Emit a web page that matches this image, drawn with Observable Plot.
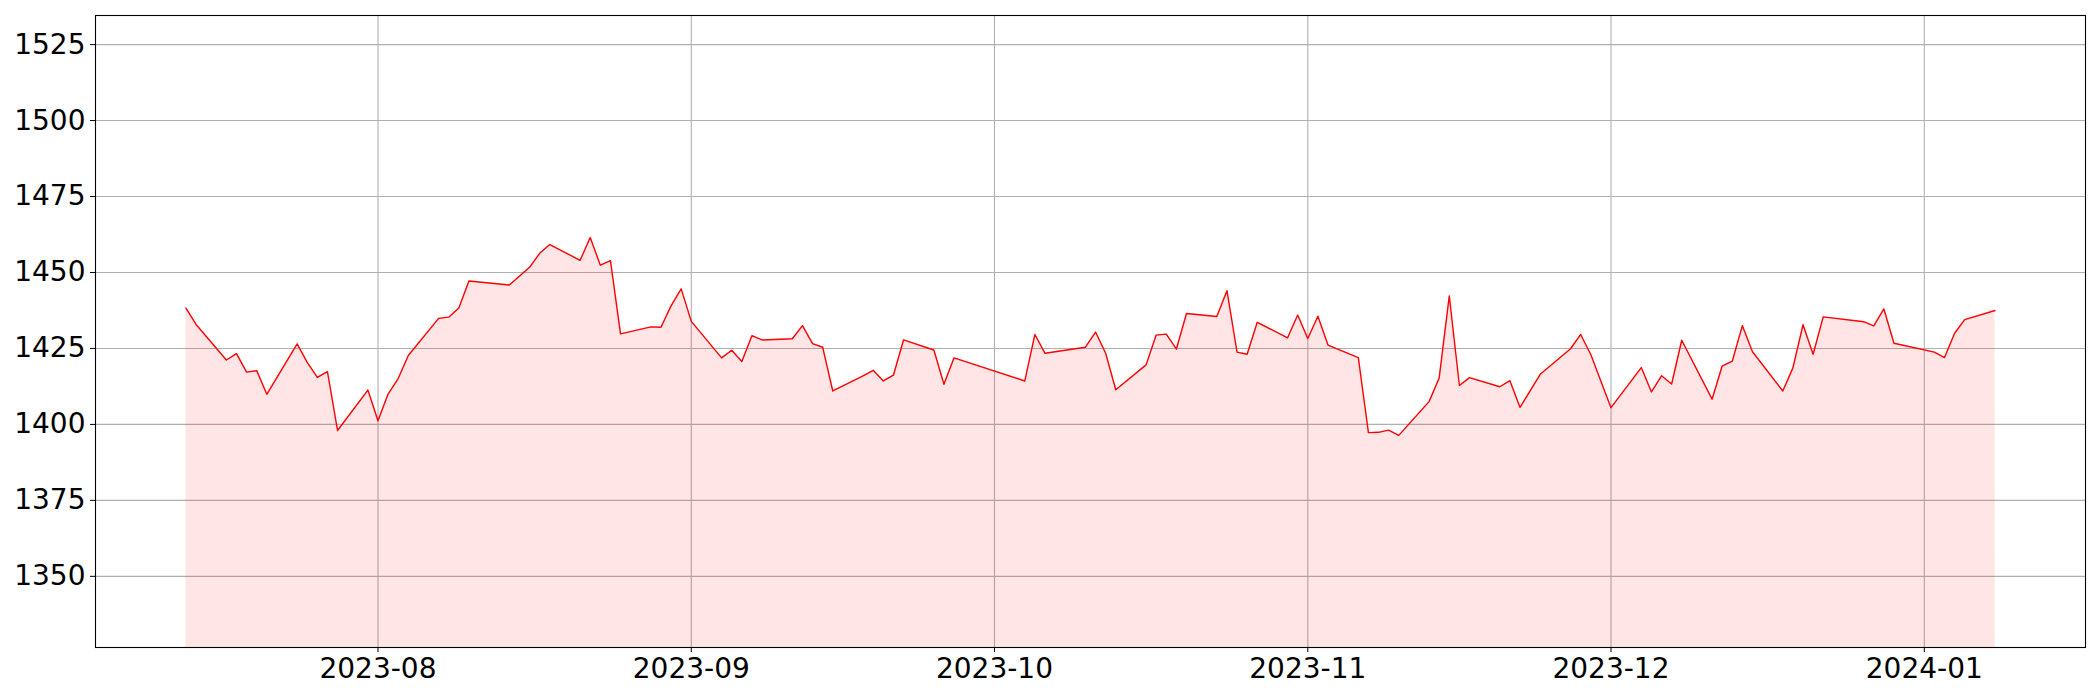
<!DOCTYPE html>
<html>
<head>
<meta charset="utf-8">
<script src="https://cdn.jsdelivr.net/npm/d3@7"></script>
<script src="https://cdn.jsdelivr.net/npm/@observablehq/plot@0.6"></script>
<style>
  html, body { margin: 0; padding: 0; background: #fff; }
  #chart { width: 2100px; height: 700px; }
</style>
</head>
<body>
<div id="chart"></div>
<script>
const dates = [
  "2023-07-13","2023-07-14","2023-07-17","2023-07-18","2023-07-19","2023-07-20","2023-07-21",
  "2023-07-24","2023-07-25","2023-07-26","2023-07-27","2023-07-28","2023-07-31",
  "2023-08-01","2023-08-02","2023-08-03","2023-08-04","2023-08-07","2023-08-08","2023-08-09","2023-08-10",
  "2023-08-14","2023-08-16","2023-08-17","2023-08-18","2023-08-21","2023-08-22","2023-08-23","2023-08-24","2023-08-25",
  "2023-08-28","2023-08-29","2023-08-30","2023-08-31","2023-09-01",
  "2023-09-04","2023-09-05","2023-09-06","2023-09-07","2023-09-08",
  "2023-09-11","2023-09-12","2023-09-13","2023-09-14","2023-09-15",
  "2023-09-18","2023-09-19","2023-09-20","2023-09-21","2023-09-22",
  "2023-09-25","2023-09-26","2023-09-27","2023-10-04","2023-10-05","2023-10-06",
  "2023-10-10","2023-10-11","2023-10-12","2023-10-13",
  "2023-10-16","2023-10-17","2023-10-18","2023-10-19","2023-10-20",
  "2023-10-23","2023-10-24","2023-10-25","2023-10-26","2023-10-27",
  "2023-10-30","2023-10-31","2023-11-01","2023-11-02","2023-11-03",
  "2023-11-06","2023-11-07","2023-11-08","2023-11-09","2023-11-10",
  "2023-11-13","2023-11-14","2023-11-15","2023-11-16","2023-11-17",
  "2023-11-20","2023-11-21","2023-11-22","2023-11-24",
  "2023-11-27","2023-11-28","2023-11-29","2023-12-01",
  "2023-12-04","2023-12-05","2023-12-06","2023-12-07","2023-12-08",
  "2023-12-11","2023-12-12","2023-12-13","2023-12-14","2023-12-15",
  "2023-12-18","2023-12-19","2023-12-20","2023-12-21","2023-12-22",
  "2023-12-26","2023-12-27","2023-12-28","2023-12-29",
  "2024-01-02","2024-01-03","2024-01-04","2024-01-05","2024-01-08"
];
const values = [
  1438.3,1432.9,1421.2,1423.3,1417.2,1417.7,1409.9,
  1426.5,1420.4,1415.5,1417.4,1398.0,1411.3,
  1401.2,1410.0,1415.1,1422.7,1434.9,1435.3,1438.3,1447.2,
  1445.9,1451.7,1456.3,1459.2,1454.0,1461.5,1452.4,1453.9,1429.8,
  1432.1,1432.0,1439.0,1444.6,1433.9,
  1421.9,1424.4,1420.7,1429.2,1427.8,
  1428.2,1432.5,1426.6,1425.4,1411.0,
  1416.0,1417.8,1414.3,1416.2,1427.8,
  1424.5,1413.2,1421.9,1414.3,1429.6,1423.4,
  1425.4,1430.4,1423.4,1411.4,
  1419.6,1429.4,1429.7,1424.8,1436.5,
  1435.5,1444.0,1423.8,1423.1,1433.6,
  1428.5,1436.0,1428.3,1435.6,1426.1,
  1422.0,1397.3,1397.4,1398.1,1396.4,
  1407.5,1415.3,1442.3,1412.8,1415.4,
  1412.4,1414.4,1405.6,1416.5,
  1424.9,1429.6,1423.0,1405.5,
  1418.7,1410.7,1416.0,1413.3,1427.7,
  1408.3,1419.2,1420.8,1432.5,1423.9,
  1411.0,1418.6,1432.8,1423.1,1435.4,
  1433.8,1432.4,1438.0,1426.7,
  1423.8,1422.0,1430.0,1434.5,1437.5
];
const xTickLabels = ["2023-08","2023-09","2023-10","2023-11","2023-12","2024-01"];
const yTicks = [1350, 1375, 1400, 1425, 1450, 1475, 1500, 1525];

const parse = d3.utcParse("%Y-%m-%d");
const data = dates.map((d, i) => ({date: parse(d), value: values[i]}));

const yMin = d3.min(values) * 0.95;
const yMax = d3.max(values) * 1.05;
const t0 = data[0].date, t1 = data[data.length - 1].date;
const pad = (t1 - t0) * 0.05;
const xDomain = [new Date(+t0 - pad), new Date(+t1 + pad)];
const xTicks = xTickLabels.map(s => d3.utcParse("%Y-%m")(s));

const chart = Plot.plot({
  width: 2100,
  height: 700,
  marginLeft: 95,
  marginRight: 15,
  marginTop: 15,
  marginBottom: 53,
  style: {fontFamily: "DejaVu Sans", fontSize: "28px", color: "#000", background: "#fff"},
  x: {type: "utc", domain: xDomain},
  y: {domain: [yMin, yMax]},
  marks: [
    Plot.gridY(yTicks, {stroke: "#b0b0b0", strokeOpacity: 1, strokeWidth: 1.1}),
    Plot.gridX(xTicks, {stroke: "#b0b0b0", strokeOpacity: 1, strokeWidth: 1.1}),
    Plot.areaY(data, {x: "date", y1: yMin, y2: "value", fill: "red", fillOpacity: 0.1}),
    Plot.lineY(data, {x: "date", y: "value", stroke: "red", strokeWidth: 1.4}),
    Plot.axisY({ticks: yTicks, tickSize: 5, tickPadding: 5, label: null, tickFormat: d => String(d), fontSize: 28}),
    Plot.axisX({ticks: xTicks, tickSize: 5, tickPadding: 6, label: null, tickFormat: d3.utcFormat("%Y-%m"), fontSize: 28}),
    Plot.frame({stroke: "#000", strokeWidth: 1.1})
  ]
});
document.getElementById("chart").appendChild(chart);
</script>
</body>
</html>
